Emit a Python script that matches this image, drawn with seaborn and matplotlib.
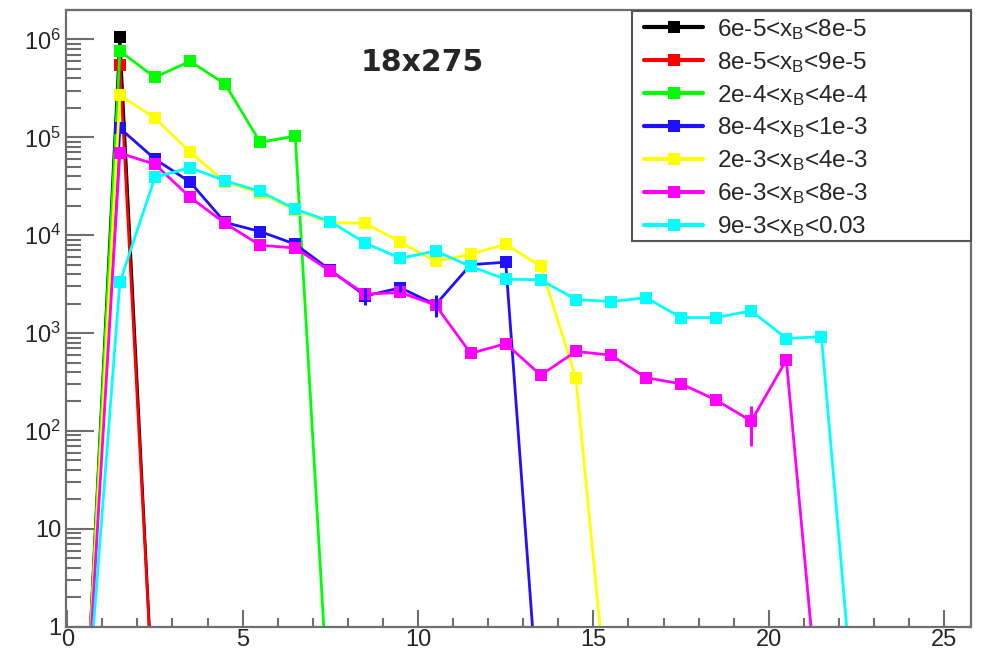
import numpy as np
import pandas as pd
import matplotlib
matplotlib.use("Agg")
import matplotlib.pyplot as plt
from matplotlib.patches import Rectangle
from matplotlib.ticker import MultipleLocator, LogLocator, FuncFormatter, NullFormatter
import seaborn as sns

# bin centres of the histogram (bin width 1)
bin_centers = [0.5 + i for i in range(23)]

labels = [
    r"6e-5<x$_{\mathrm{B}}$<8e-5",
    r"8e-5<x$_{\mathrm{B}}$<9e-5",
    r"2e-4<x$_{\mathrm{B}}$<4e-4",
    r"8e-4<x$_{\mathrm{B}}$<1e-3",
    r"2e-3<x$_{\mathrm{B}}$<4e-3",
    r"6e-3<x$_{\mathrm{B}}$<8e-3",
    r"9e-3<x$_{\mathrm{B}}$<0.03",
]
colors = ["#000000", "#ff0000", "#00ff00", "#2010ff", "#ffff00", "#ff00ff", "#00ffff"]

# counts per bin, starting at bin centre 0.5 (zero-count bins included)
counts_1 = [0, 1.07e6, 0]
counts_2 = [0, 5.5e5, 0]
counts_3 = [0, 7.6e5, 4.1e5, 6.0e5, 3.5e5, 8.9e4, 1.03e5, 0]
counts_4 = [0, 1.24e5, 6.0e4, 3.5e4, 1.35e4, 1.09e4, 8.1e3, 4.4e3, 2.4e3,
            2.9e3, 1.95e3, 5.0e3, 5.3e3, 0]
counts_5 = [0, 2.7e5, 1.57e5, 7.1e4, 3.5e4, 2.7e4, 1.8e4, 1.35e4, 1.32e4,
            8.5e3, 5.4e3, 6.4e3, 8.1e3, 4.8e3, 350, 0]
counts_6 = [0, 6.9e4, 5.3e4, 2.45e4, 1.32e4, 7.9e3, 7.4e3, 4.3e3, 2.5e3,
            2.6e3, 1.93e3, 620, 780, 372, 650, 595, 350, 303, 207, 126, 530, 0]
counts_7 = [0, 3.3e3, 3.9e4, 4.9e4, 3.6e4, 2.8e4, 1.85e4, 1.38e4, 8.3e3,
            5.8e3, 6.9e3, 4.8e3, 3.55e3, 3.5e3, 2.2e3, 2.1e3, 2.3e3, 1.44e3,
            1.44e3, 1.69e3, 880, 920, 0]
all_counts = [counts_1, counts_2, counts_3, counts_4, counts_5, counts_6, counts_7]

# statistical errors that are larger than the marker
err_series = [3, 3, 3, 5]
err_x = [8.5, 9.5, 10.5, 19.5]
err_y = [2.4e3, 2.9e3, 1.95e3, 126]
err_size = [480, 300, 500, 55]

# empty bins are drawn at a small positive value below the axis on log scale
ZERO_FLOOR = 0.07

rows = []
for lab, cnt in zip(labels, all_counts):
    for x, c in zip(bin_centers, cnt):
        rows.append({"x": x, "y": c if c > 0 else ZERO_FLOOR, "sample": lab})
df = pd.DataFrame(rows)

sns.set_style("ticks")
plt.rcParams["font.family"] = ["Liberation Sans", "DejaVu Sans"]
plt.rcParams["mathtext.fontset"] = "custom"
plt.rcParams["mathtext.rm"] = "Liberation Sans"
plt.rcParams["mathtext.it"] = "Liberation Sans:italic"
plt.rcParams["mathtext.bf"] = "Liberation Sans:bold"

fig = plt.figure(figsize=(9.9, 6.56), dpi=100)
ax = fig.add_axes([65.5 / 990, 1 - 626.7 / 656, (970.5 - 65.5) / 990, (626.7 - 10) / 656])

palette = dict(zip(labels, colors))
sns.lineplot(data=df, x="x", y="y", hue="sample", hue_order=labels, palette=palette,
             estimator=None, sort=True, marker="s", markersize=8.5, markeredgewidth=0,
             linewidth=2.0, ax=ax, legend=True)

for s, x, y, e in zip(err_series, err_x, err_y, err_size):
    ax.errorbar([x], [y], yerr=[e], fmt="none", ecolor=colors[s], elinewidth=2.2,
                capsize=0, zorder=3)

ax.set_yscale("log")
ax.set_xlim(-0.05, 25.75)
ax.set_ylim(1, 2.0e6)
ax.set_xlabel(None)
ax.set_ylabel(None)

frame_col = "#6e6e6e"
for side, sp in ax.spines.items():
    sp.set_color(frame_col)
    sp.set_linewidth(1.6)

ax.xaxis.set_major_locator(MultipleLocator(5))
ax.xaxis.set_minor_locator(MultipleLocator(1))
ax.yaxis.set_major_locator(LogLocator(base=10, numticks=10))
ax.yaxis.set_minor_locator(LogLocator(base=10, subs=np.arange(2, 10), numticks=20))
ax.yaxis.set_minor_formatter(NullFormatter())


def log_label(v, pos):
    if v < 0.5:
        return ""
    n = int(round(np.log10(v)))
    if n == 0:
        return "1"
    if n == 1:
        return "10"
    return r"$10^{%d}$" % n


ax.yaxis.set_major_formatter(FuncFormatter(log_label))
ax.tick_params(axis="x", which="major", direction="in", length=12, width=1.5,
               color=frame_col, labelsize=17, pad=2.0, top=False)
ax.tick_params(axis="x", which="minor", direction="in", length=6.5, width=1.5,
               color=frame_col, top=False)
ax.tick_params(axis="y", which="major", direction="in", length=20, width=1.5,
               color=frame_col, labelsize=17, pad=3, right=False)
ax.tick_params(axis="y", which="minor", direction="in", length=11, width=1.5,
               color=frame_col, right=False)

ax.text(0.394, 0.915, "18x275", transform=ax.transAxes, ha="center", va="center",
        fontsize=21.5, fontweight="bold", family=["DejaVu Sans"])

# legend box (drawn separately so the entries can sit inside a wider frame)
box = Rectangle((0.626, 0.6254), 0.3746, 0.3735, transform=ax.transAxes,
                facecolor="white", edgecolor="#555555", linewidth=1.5,
                clip_on=False, zorder=4.5)
ax.add_patch(box)

handles, labs = ax.get_legend_handles_labels()
for h in handles:
    h.set_linewidth(3.0)
    h.set_markersize(9)
leg = ax.legend(handles, labs, loc="upper left", bbox_to_anchor=(0.6392, 0.989),
                borderaxespad=0, frameon=False, borderpad=0,
                fontsize=17.5, handlelength=2.43, handletextpad=0.58, labelspacing=0.33)
leg.set_zorder(5)

fig.savefig("out.png", dpi=100)
